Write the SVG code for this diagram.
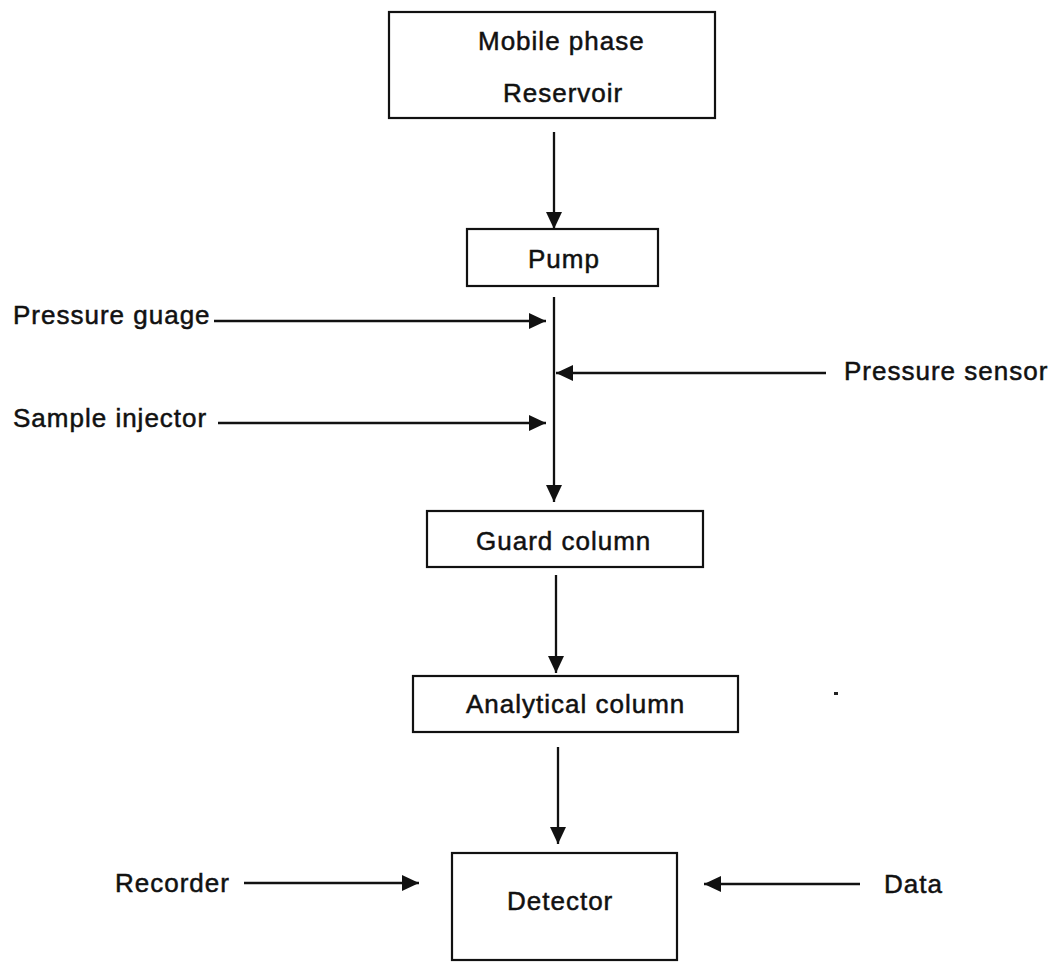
<svg xmlns="http://www.w3.org/2000/svg" width="1057" height="962" viewBox="0 0 1057 962">
<style>
.box{fill:#fff;stroke:#111;stroke-width:2.2}
.lbl{font-family:"Liberation Sans",Arial,sans-serif;font-size:26px;letter-spacing:1px;fill:#111;stroke:#111;stroke-width:0.5}
.conn{stroke:#111;stroke-width:2.3;fill:none}
</style>
<defs>
<marker id="ah" markerUnits="userSpaceOnUse" markerWidth="17" markerHeight="16" refX="17" refY="8" orient="auto">
<path d="M0,0 L17,8 L0,16 z" fill="#111"/>
</marker>
</defs>
<rect width="1057" height="962" fill="#fff"/>
<g id="reservoir"><rect class="box" x="389" y="12" width="326" height="106"/><text class="lbl" x="478" y="50">Mobile phase</text><text class="lbl" x="503" y="102">Reservoir</text></g>
<g id="pump"><rect class="box" x="467" y="229" width="191" height="57"/><text class="lbl" x="528" y="268">Pump</text></g>
<g id="guard"><rect class="box" x="427" y="511" width="276" height="56"/><text class="lbl" x="476" y="550">Guard column</text></g>
<g id="analytical"><rect class="box" x="413" y="676" width="325" height="56"/><text class="lbl" x="466" y="713">Analytical column</text></g>
<g id="detector"><rect class="box" x="452" y="853" width="225" height="107"/><text class="lbl" x="507" y="910">Detector</text></g>
<g id="pressure-guage"><text class="lbl" x="13" y="324">Pressure guage</text></g>
<g id="sample-injector"><text class="lbl" x="13" y="427">Sample injector</text></g>
<g id="pressure-sensor"><text class="lbl" x="844" y="380">Pressure sensor</text></g>
<g id="recorder"><text class="lbl" x="115" y="892">Recorder</text></g>
<g id="data"><text class="lbl" x="884" y="893">Data</text></g>
<g id="connectors">
<line class="conn" x1="554" y1="132" x2="554" y2="229" marker-end="url(#ah)"/>
<line class="conn" x1="554" y1="297" x2="554" y2="502" marker-end="url(#ah)"/>
<line class="conn" x1="214" y1="321" x2="546" y2="321" marker-end="url(#ah)"/>
<line class="conn" x1="218" y1="423" x2="546" y2="423" marker-end="url(#ah)"/>
<line class="conn" x1="826" y1="373" x2="556" y2="373" marker-end="url(#ah)"/>
<line class="conn" x1="556" y1="575" x2="556" y2="673" marker-end="url(#ah)"/>
<line class="conn" x1="558" y1="747" x2="558" y2="844" marker-end="url(#ah)"/>
<line class="conn" x1="244" y1="883" x2="419" y2="883" marker-end="url(#ah)"/>
<line class="conn" x1="860" y1="884" x2="704" y2="884" marker-end="url(#ah)"/>
</g>
<rect x="834" y="692" width="4" height="3" fill="#222"/>
</svg>
